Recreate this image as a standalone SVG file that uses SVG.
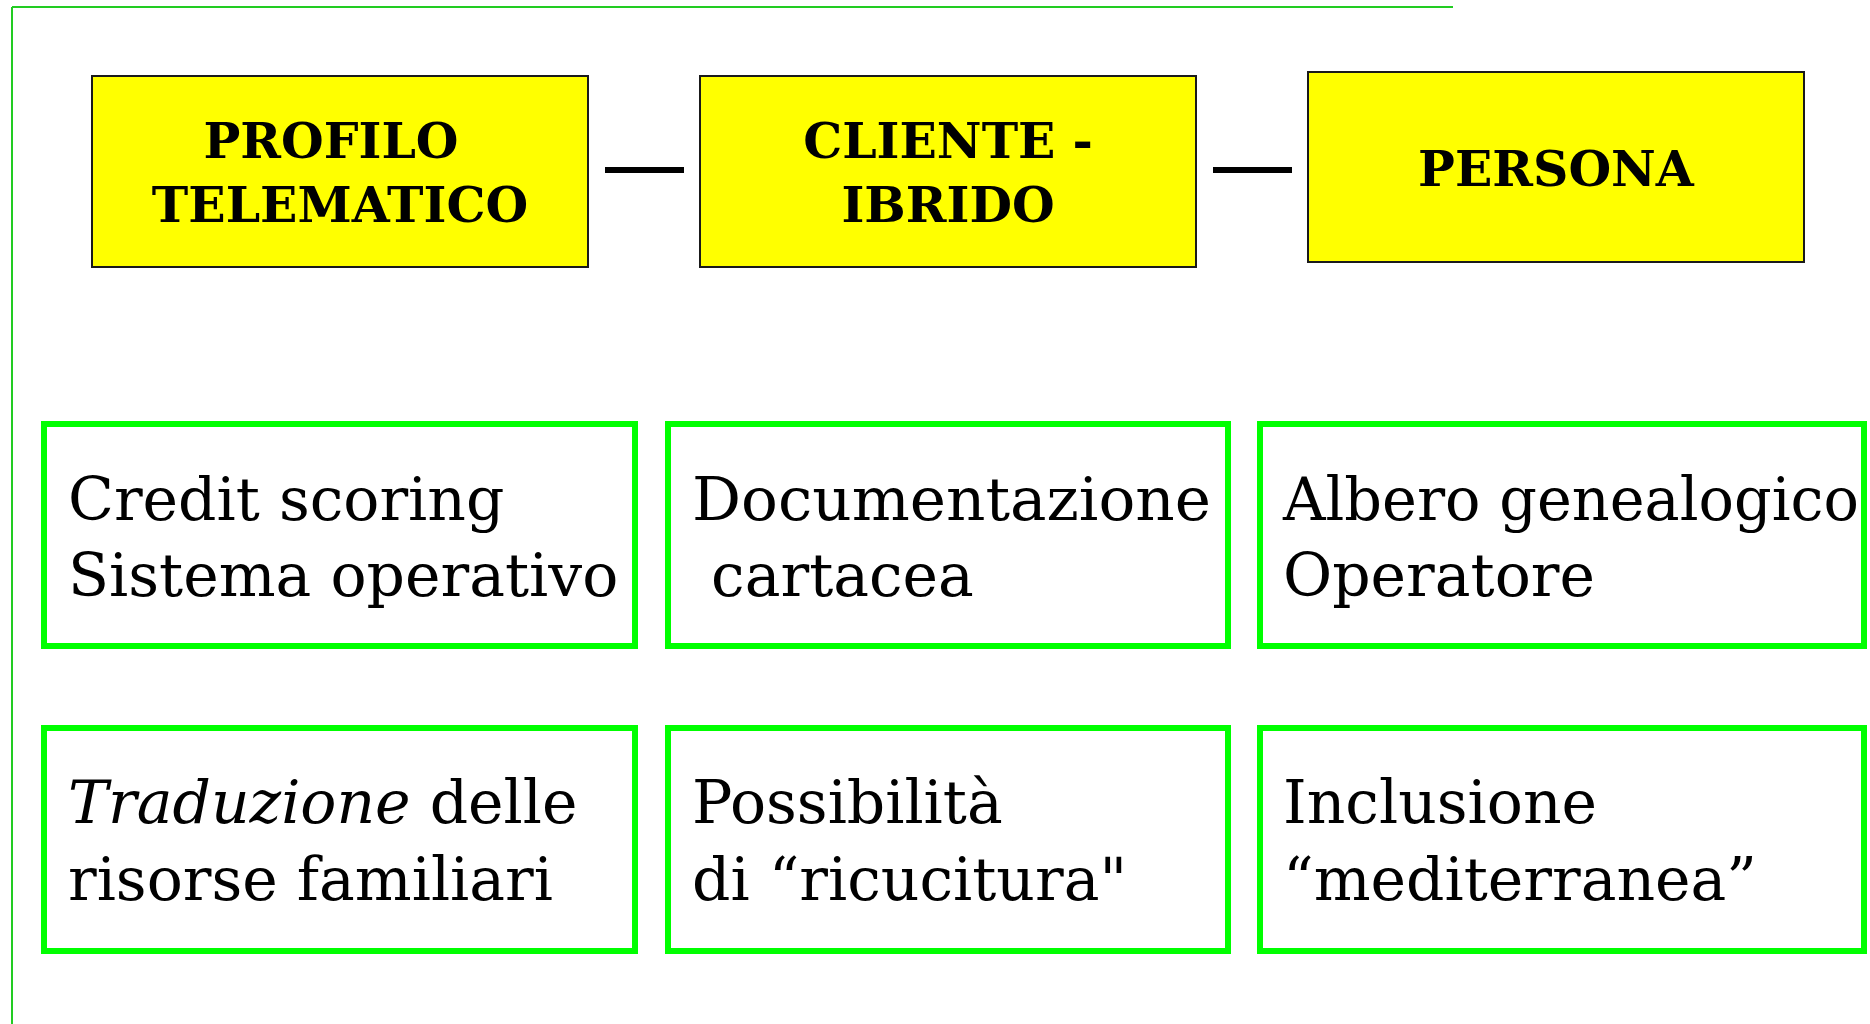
<svg xmlns="http://www.w3.org/2000/svg" width="1870" height="1024" viewBox="0 0 1870 1024">
<style>
.frame{stroke:#22cc22;stroke-width:2;fill:none}
.ybox{fill:#ffff00;stroke:#1a1a1a;stroke-width:2}
.gbox{fill:#ffffff;stroke:#00ff00;stroke-width:6}
.conn{stroke:#000;stroke-width:6;fill:none}
.title{font-family:"DejaVu Serif",serif;font-weight:bold;font-size:49px;fill:#000;text-anchor:middle}
.body{font-family:"DejaVu Serif",serif;font-size:60px;fill:#000}
.it{font-style:italic}
</style>
<rect width="1870" height="1024" fill="#ffffff"/>
<g id="frame">
<line class="frame" x1="12" y1="7" x2="1453" y2="7"/>
<line class="frame" x1="12" y1="7" x2="12" y2="1024"/>
</g>
<g id="connectors">
<line class="conn" x1="605" y1="170" x2="684" y2="170"/>
<line class="conn" x1="1213" y1="170" x2="1292" y2="170"/>
</g>
<g id="profilo-telematico">
<rect class="ybox" x="92" y="76" width="496" height="191"/>
<text class="title" x="331" y="158">PROFILO</text>
<text class="title" x="340" y="222">TELEMATICO</text>
</g>
<g id="cliente-ibrido">
<rect class="ybox" x="700" y="76" width="496" height="191"/>
<text class="title" x="948" y="158">CLIENTE -</text>
<text class="title" x="948" y="222">IBRIDO</text>
</g>
<g id="persona">
<rect class="ybox" x="1308" y="72" width="496" height="190"/>
<text class="title" x="1556" y="186">PERSONA</text>
</g>
<g id="credit-scoring">
<rect class="gbox" x="44" y="424" width="591" height="222"/>
<text class="body" x="68" y="520">Credit scoring</text>
<text class="body" x="68" y="596">Sistema operativo</text>
</g>
<g id="documentazione">
<rect class="gbox" x="668" y="424" width="560" height="222"/>
<text class="body" x="692" y="520" textLength="519" lengthAdjust="spacingAndGlyphs">Documentazione</text>
<text class="body" x="692" y="596" xml:space="preserve"> cartacea</text>
</g>
<g id="albero">
<rect class="gbox" x="1260" y="424" width="604" height="222"/>
<text class="body" x="1283" y="520" textLength="576" lengthAdjust="spacingAndGlyphs">Albero genealogico</text>
<text class="body" x="1283" y="596">Operatore</text>
</g>
<g id="traduzione">
<rect class="gbox" x="44" y="728" width="591" height="223"/>
<text class="body" x="68" y="823"><tspan class="it">Traduzione</tspan> delle</text>
<text class="body" x="68" y="900">risorse familiari</text>
</g>
<g id="possibilita">
<rect class="gbox" x="668" y="728" width="560" height="223"/>
<text class="body" x="692" y="823">Possibilità</text>
<text class="body" x="692" y="900">di “ricucitura"</text>
</g>
<g id="inclusione">
<rect class="gbox" x="1260" y="728" width="604" height="223"/>
<text class="body" x="1283" y="823">Inclusione</text>
<text class="body" x="1283" y="900">“mediterranea”</text>
</g>
</svg>
